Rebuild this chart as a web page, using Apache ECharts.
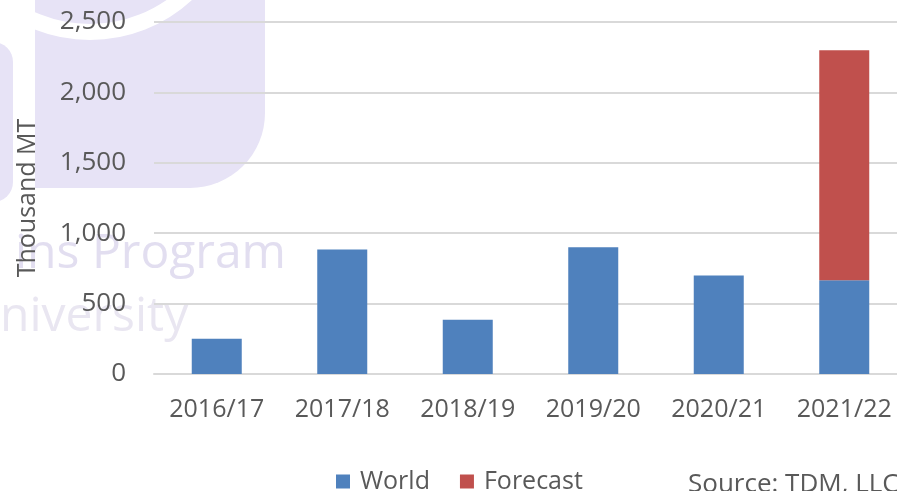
<!DOCTYPE html>
<html>
<head>
<meta charset="utf-8">
<script src="https://cdn.jsdelivr.net/npm/echarts@6/dist/echarts.min.js"></script>
<style>
  html, body { margin: 0; padding: 0; background: #fff; overflow: hidden; }
  /* chart is a bit wider than the window so the last column gets cut like the original */
  #chart { width: 912px; height: 491px; }
</style>
</head>
<body>
<div id="chart"></div>
<script>
const seasons = ["2016/17", "2017/18", "2018/19", "2019/20", "2020/21", "2021/22"];
const worldValues = [250, 885, 385, 900, 700, 665];
const forecastValues = [null, null, null, null, null, 1635];
const yTicks = { min: 0, max: 2500, interval: 500 };

const labelColor = "#595959";
const gridColor = "#d9d9d9";
const font = "'Open Sans', 'Noto Sans', sans-serif";

const chart = echarts.init(document.getElementById("chart"));

chart.setOption({
  backgroundColor: "#fff",
  animation: false,
  textStyle: { fontFamily: font },
  grid: { left: 154, top: 22, bottom: 117, width: 753, containLabel: false },
  // faint watermark behind the chart
  graphic: [
    { type: "rect", z: -10, shape: { x: 35, y: -40, width: 230, height: 228, r: [0, 0, 75, 0] }, style: { fill: "#e7e3f6" } },
    { type: "circle", z: -9, shape: { cx: 90, cy: -110, r: 142 }, style: { fill: "none", stroke: "#fff", lineWidth: 16 } },
    { type: "rect", z: -10, shape: { x: -30, y: 42, width: 43, height: 160, r: 20 }, style: { fill: "#e7e3f6" } },
    { type: "text", z: -8, x: 15, y: 254, style: { text: "ins Program", font: "48px " + font, fill: "#e2def0", verticalAlign: "middle" } },
    { type: "text", z: -8, x: 0, y: 317, style: { text: "niversity", font: "48px " + font, fill: "#e9e6f1", verticalAlign: "middle" } },
    { type: "text", z: 5, x: 688, y: 485, style: { text: "Source: TDM, LLC", font: "26px " + font, fill: labelColor, verticalAlign: "middle" } }
  ],
  legend: {
    data: ["World", "Forecast"],
    left: 331,
    top: 464,
    itemWidth: 14,
    itemHeight: 14,
    itemGap: 30,
    icon: "rect",
    textStyle: { color: labelColor, fontSize: 25, fontFamily: font, padding: [0, 0, 0, 5] }
  },
  xAxis: {
    type: "category",
    data: seasons,
    axisLine: { lineStyle: { color: gridColor, width: 2 } },
    axisTick: { show: false },
    axisLabel: { interval: 0, color: labelColor, fontSize: 25, margin: 23, fontFamily: font }
  },
  yAxis: {
    type: "value",
    min: yTicks.min,
    max: yTicks.max,
    interval: yTicks.interval,
    name: "Thousand MT",
    nameLocation: "middle",
    nameGap: 114,
    nameTextStyle: { color: labelColor, fontSize: 25, fontFamily: font },
    axisLine: { show: false },
    axisTick: { show: false },
    axisLabel: {
      color: labelColor,
      fontSize: 26,
      margin: 28,
      fontFamily: font,
      formatter: (v) => v.toLocaleString("en-US")
    },
    splitLine: { lineStyle: { color: gridColor, width: 2 } }
  },
  series: [
    {
      name: "World",
      type: "bar",
      stack: "total",
      barWidth: 50,
      data: worldValues,
      itemStyle: { color: "#4f81bd" }
    },
    {
      name: "Forecast",
      type: "bar",
      stack: "total",
      barWidth: 50,
      data: forecastValues,
      itemStyle: { color: "#c0504d" }
    }
  ]
});
</script>
</body>
</html>
